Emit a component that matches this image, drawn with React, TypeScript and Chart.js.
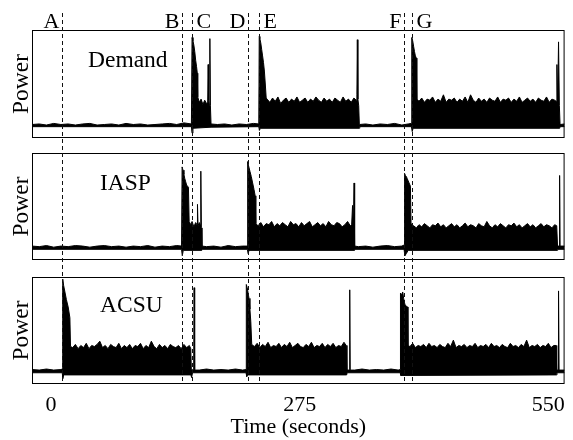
import React, { useEffect, useRef } from 'react';
import { Chart, registerables } from 'chart.js';

Chart.register(...registerables);

const FONT = '"Liberation Serif", "Times New Roman", serif';

// ---------------- data ----------------
const panelNames = ['Demand', 'IASP', 'ACSU'];
const eventLabels = ['A', 'B', 'C', 'D', 'E', 'F', 'G'];
const eventTimes = [12.4, 144.9, 155.9, 217.5, 230.3, 390.9, 399.0];
const xTickValues = [0, 275, 550];
const xTitle = 'Time (seconds)';
const yTitle = 'Power';

// upper envelope of the Demand trace [time s, power]
const demandHigh = [
  [-21, .125], [-13, .13], [-5, .12], [3, .135], [11, .125], [19, .13], [27, .12], [35, .13], [43, .135], [51, .12], [59, .125], [67, .13], [75, .12], [83, .135], [91, .125], [99, .13], [107, .12], [115, .125], [123, .13], [131, .135], [139, .125], [147, .14], [155.3, .13],
  [156, .93], [157, .9], [158, .86], [159, .8], [160, .72], [161, .66], [161.8, .6], [162.3, .38], [164, .33], [166, .36], [168, .31], [170, .35], [172, .32], [173.3, .33], [173.8, .68], [174.3, .35], [175.2, .3], [175.7, .92], [176.3, .3], [177, .13],
  [184, .125], [192, .13], [200, .12], [208, .13], [216, .125], [224, .135], [229.8, .13],
  [230.3, .94], [231, .92], [232, .88], [233, .82], [234, .76], [235, .7], [236, .62], [237, .5], [238, .37],
  [239, .36], [242, .33], [245, .37], [248, .34], [251, .38], [254, .32], [257, .35], [260, .37], [263, .33], [266, .36], [269, .34], [272, .38], [275, .33], [278, .35], [281, .37], [284, .33], [287, .36], [290, .34], [293, .38], [296, .35], [299, .33], [302, .37], [305, .34], [308, .36], [311, .33], [314, .37], [317, .35], [320, .33], [323, .38], [326, .34], [329, .36], [332, .33], [335, .37], [337.5, .35],
  [338.3, .4], [338.8, .91], [339.4, .36], [340.3, .3], [341, .125],
  [348, .13], [356, .12], [364, .13], [372, .125], [380, .135], [388, .12], [395, .13], [398.6, .135],
  [399, .93], [400, .9], [401, .85], [402, .8], [403, .76], [404, .74], [404.6, .36],
  [407, .34], [410, .37], [413, .33], [416, .36], [419, .35], [422, .38], [425, .33], [428, .36], [431, .34], [434, .4], [437, .33], [440, .36], [443, .35], [446, .37], [449, .33], [452, .36], [455, .34], [458, .38], [461, .33], [464, .4], [467, .35], [470, .33], [473, .37], [476, .34], [479, .36], [482, .33], [485, .37], [488, .35], [491, .34], [494, .38], [497, .33], [500, .36], [503, .35], [506, .37], [509, .33], [512, .36], [515, .34], [518, .38], [521, .33], [524, .35], [527, .37], [530, .34], [533, .36], [536, .33], [539, .37], [542, .35], [545, .34], [548, .38], [551, .33], [554, .36], [557, .35],
  [558.6, .34], [559.5, .68], [560.3, .3], [561.3, .89], [562.2, .3], [563, .125], [568, .13],
];
// lower envelope of the Demand trace
const demandLow = [
  [-21, .105], [155.3, .105], [156, .045], [157, .09], [177, .1], [229.8, .105], [230.5, .07], [231.5, .09], [341, .09], [341.5, .105], [398.6, .105], [399.5, .06], [400.5, .09], [562.6, .09], [563, .105], [568, .105],
];

const iaspHigh = [
  [-21, .13], [-13, .125], [-5, .135], [3, .12], [11, .13], [19, .125], [27, .135], [35, .13], [43, .12], [51, .13], [59, .135], [67, .125], [75, .13], [83, .12], [91, .13], [99, .125], [107, .135], [115, .12], [123, .13], [131, .125], [139, .135], [144.4, .13],
  [145, .87], [146, .84], [147, .8], [148, .76], [149, .73], [150, .7], [151, .69], [152, .68], [152.8, .36], [154.5, .33], [156, .36], [158, .31], [160, .35], [161.5, .33], [162, .52], [162.6, .32], [164, .35], [165.2, .33], [165.7, .83], [166.3, .3], [167, .13],
  [172, .125], [180, .13], [188, .12], [196, .135], [204, .125], [212, .13], [217, .13],
  [217.5, .92], [218.5, .88], [220, .83], [221.5, .78], [223, .72], [224.5, .66], [225.8, .6], [226.5, .34],
  [229, .32], [232, .35], [235, .31], [238, .34], [241, .33], [244, .36], [247, .31], [250, .34], [253, .32], [256, .35], [259, .33], [262, .31], [265, .36], [268, .33], [271, .34], [274, .31], [277, .35], [280, .32], [283, .34], [286, .36], [289, .31], [292, .33], [295, .35], [298, .32], [301, .34], [304, .31], [307, .36], [310, .33], [313, .32], [316, .35], [319, .34], [322, .31], [325, .33], [328, .36], [331, .32],
  [332.5, .33], [333.5, .51], [334.4, .3], [335.2, .72], [335.8, .13],
  [340, .125], [348, .13], [356, .12], [364, .13], [372, .135], [380, .125], [388, .13], [390.5, .14],
  [391, .81], [392, .79], [393, .78], [394, .76], [395, .74], [396, .72], [397.5, .69], [398.2, .34],
  [401, .32], [404, .3], [407, .33], [410, .31], [413, .34], [416, .32], [419, .3], [422, .33], [425, .32], [428, .345], [431, .31], [434, .33], [437, .3], [440, .32], [443, .34], [446, .31], [449, .33], [452, .3], [455, .32], [458, .345], [461, .31], [464, .33], [467, .32], [470, .3], [473, .34], [476, .32], [479, .31], [482, .36], [485, .32], [488, .3], [491, .33], [494, .31], [497, .34], [500, .32], [503, .3], [506, .33], [509, .32], [512, .345], [515, .31], [518, .33], [521, .3], [524, .32], [527, .34], [530, .31], [533, .33], [536, .3], [539, .32], [542, .34], [545, .31], [548, .33], [551, .32], [554, .3], [557, .33],
  [559.3, .32], [560.2, .13], [562, .13], [562.5, .79], [563, .13], [568, .13],
];
const iaspLow = [
  [-21, .1], [144.4, .1], [145.2, .04], [146.3, .09], [166.8, .09], [167.3, .1], [217.2, .1], [218, .06], [219, .09], [335.8, .09], [336.3, .1], [390.5, .1], [391.3, .04], [393, .06], [395, .09], [559.8, .09], [560.3, .1], [568, .1],
];

const acsuHigh = [
  [-21, .135], [-13, .13], [-5, .14], [3, .13], [11, .135], [12.5, .14],
  [13, .98], [14, .92], [15.4, .86], [17, .79], [19, .72], [20.9, .62], [21.6, .35],
  [24, .34], [27, .37], [30, .33], [33, .36], [36, .34], [39, .38], [42, .33], [45, .36], [48, .35], [51, .37], [54, .4], [57, .34], [60, .36], [63, .33], [66, .37], [69, .35], [72, .34], [75, .38], [78, .33], [81, .36], [84, .34], [87, .37], [90, .33], [93, .36], [96, .35], [99, .38], [102, .33], [105, .36], [108, .34], [111, .4], [114, .35], [117, .33], [120, .37], [123, .34], [126, .36], [129, .33], [132, .37], [135, .35], [138, .34], [141, .36], [144, .33], [147, .37], [150, .34], [153, .36],
  [154.6, .33], [155.2, .135], [157.8, .13], [158.3, .9], [158.9, .13],
  [164, .13], [172, .14], [180, .13], [188, .135], [196, .13], [204, .14], [212, .13], [215.7, .135],
  [216, .93], [217, .9], [218, .85], [219, .8], [220, .7], [221, .58], [222, .37],
  [225, .35], [228, .38], [231, .34], [234, .37], [237, .35], [240, .39], [243, .34], [246, .36], [249, .35], [252, .38], [255, .34], [258, .37], [261, .35], [264, .39], [267, .34], [270, .36], [273, .38], [276, .35], [279, .34], [282, .37], [285, .35], [288, .39], [291, .34], [294, .36], [297, .35], [300, .38], [303, .34], [306, .37], [309, .35], [312, .38], [315, .34], [318, .36], [321, .35], [324, .39],
  [326.5, .36], [327.3, .13], [330, .13], [330.4, .88], [330.9, .13],
  [336, .13], [344, .14], [352, .13], [360, .135], [368, .13], [376, .14], [384, .13], [386.2, .135],
  [386.5, .85], [387.5, .83], [389, .86], [390, .8], [391.5, .74], [393, .73], [394.2, .72], [394.8, .36],
  [397, .35], [400, .38], [403, .34], [406, .36], [409, .35], [412, .37], [415, .34], [418, .38], [421, .35], [424, .36], [427, .34], [430, .37], [433, .35], [436, .34], [439, .38], [442, .35], [445, .41], [448, .34], [451, .36], [454, .35], [457, .37], [460, .34], [463, .36], [466, .35], [469, .38], [472, .34], [475, .36], [478, .35], [481, .37], [484, .34], [487, .38], [490, .35], [493, .36], [496, .34], [499, .37], [502, .35], [505, .34], [508, .38], [511, .35], [514, .36], [517, .34], [520, .37], [523, .35], [526, .41], [529, .34], [532, .36], [535, .35], [538, .37], [541, .34], [544, .36], [547, .35], [550, .38], [553, .34], [556, .36],
  [558.5, .36], [559.3, .13], [560.8, .13], [561.3, .87], [561.9, .13], [568, .13],
];
const acsuLow = [
  [-21, .105], [12.5, .105], [13, .05], [14, .085], [154.8, .085], [155.5, .06], [156.5, .105], [215.7, .105], [216.5, .07], [217.5, .085], [327, .085], [327.5, .105], [386.2, .105], [387, .08], [559, .085], [559.6, .105], [568, .105],
];

// ---------------- styling / layout ----------------
const panelScaleIds = ['yDemand', 'yIasp', 'yAcsu'];
const panelLabelDx = [56, 68, 68];
const panelLabelDy = [37, 37, 35];
const labelOnLeft = [true, true, false, true, false, true, false];

const toPts = (arr: number[][]) => arr.map(([x, y]) => ({ x, y }));

const overlayPlugin = {
  id: 'overlay',
  afterDraw(chart: any) {
    const { ctx, chartArea, scales } = chart;
    const xs = scales.x;
    ctx.save();
    ctx.strokeStyle = '#000';
    ctx.lineWidth = 1;
    ctx.setLineDash([]);
    panelScaleIds.forEach((id, i) => {
      const s = scales[id];
      const top = Math.round(s.top);
      const bottom = Math.round(s.bottom);
      ctx.strokeRect(chartArea.left + 0.5, top + 0.5, chartArea.right - chartArea.left - 1, bottom - top - 1);
      ctx.fillStyle = '#000';
      ctx.font = `23.5px ${FONT}`;
      ctx.textAlign = 'left';
      ctx.textBaseline = 'alphabetic';
      ctx.fillText(panelNames[i], chartArea.left + panelLabelDx[i], s.top + panelLabelDy[i]);
    });
    ctx.setLineDash([4, 3]);
    ctx.strokeStyle = '#111';
    ctx.font = `22px ${FONT}`;
    ctx.textBaseline = 'alphabetic';
    eventTimes.forEach((t, i) => {
      const px = Math.round(xs.getPixelForValue(t)) + 0.5;
      ctx.beginPath();
      ctx.moveTo(px, 13);
      ctx.lineTo(px, chartArea.bottom);
      ctx.stroke();
      if (labelOnLeft[i]) {
        ctx.textAlign = 'right';
        ctx.fillText(eventLabels[i], px - 3, 28);
      } else {
        ctx.textAlign = 'left';
        ctx.fillText(eventLabels[i], px + 4, 28);
      }
    });
    ctx.restore();
  },
};

function panelScale(weight: number, order: number, withTitle: boolean) {
  return {
    type: 'linear',
    position: 'left',
    stack: 'panels',
    stackWeight: weight,
    weight: order,
    min: 0,
    max: 1,
    grid: { display: false, drawTicks: false },
    border: { display: false },
    ticks: { display: false },
    title: {
      display: withTitle,
      text: yTitle,
      color: '#000',
      font: { family: FONT, size: 23.5, lineHeight: 1.2 },
      padding: { top: 8, bottom: 0 },
    },
    afterFit: (s: any) => {
      s.width = 32;
    },
  };
}

export default function App() {
  const ref = useRef<HTMLCanvasElement | null>(null);
  useEffect(() => {
    if (!ref.current) return;
    const line = (data: number[][], axis: string, fillNext: boolean) => ({
      data: toPts(data),
      yAxisID: axis,
      borderColor: '#000',
      backgroundColor: '#000',
      borderWidth: 1,
      pointRadius: 0,
      tension: 0,
      fill: fillNext ? '+1' : false,
    });
    const chart = new Chart(ref.current, {
      type: 'line',
      data: {
        datasets: [
          line(demandHigh, 'yDemand', true),
          line(demandLow, 'yDemand', false),
          line(iaspHigh, 'yIasp', true),
          line(iaspLow, 'yIasp', false),
          line(acsuHigh, 'yAcsu', true),
          line(acsuLow, 'yAcsu', false),
        ],
      },
      options: {
        animation: false,
        responsive: true,
        maintainAspectRatio: false,
        events: [],
        layout: { padding: { top: 30, right: 6, left: 0, bottom: 0 } },
        plugins: { legend: { display: false }, tooltip: { enabled: false }, title: { display: false } },
        scales: {
          x: {
            type: 'linear',
            position: 'bottom',
            min: -21,
            max: 568,
            grid: { display: false, drawTicks: false },
            border: { display: false },
            afterBuildTicks: (s: any) => {
              s.ticks = xTickValues.map((v) => ({ value: v }));
            },
            ticks: {
              color: '#000',
              font: { family: FONT, size: 22 },
              padding: 8,
              maxRotation: 0,
              autoSkip: false,
              callback: (v: any) => String(v),
            },
            title: {
              display: true,
              text: xTitle,
              color: '#000',
              font: { family: FONT, size: 22 },
              padding: { top: 0, bottom: 0 },
            },
            afterFit: (s: any) => {
              s.height = 56;
            },
          },
          yDemand: panelScale(108, 5, true),
          gap1: panelScale(15, 4, false),
          yIasp: panelScale(107, 3, true),
          gap2: panelScale(17, 2, false),
          yAcsu: panelScale(107, 1, true),
        } as any,
      },
      plugins: [overlayPlugin],
    } as any);
    return () => chart.destroy();
  }, []);
  return (
    <div style={{ position: 'absolute', left: 0, top: 0, width: 573, height: 440, background: '#fff' }}>
      <canvas ref={ref} style={{ display: 'block' }} />
    </div>
  );
}
